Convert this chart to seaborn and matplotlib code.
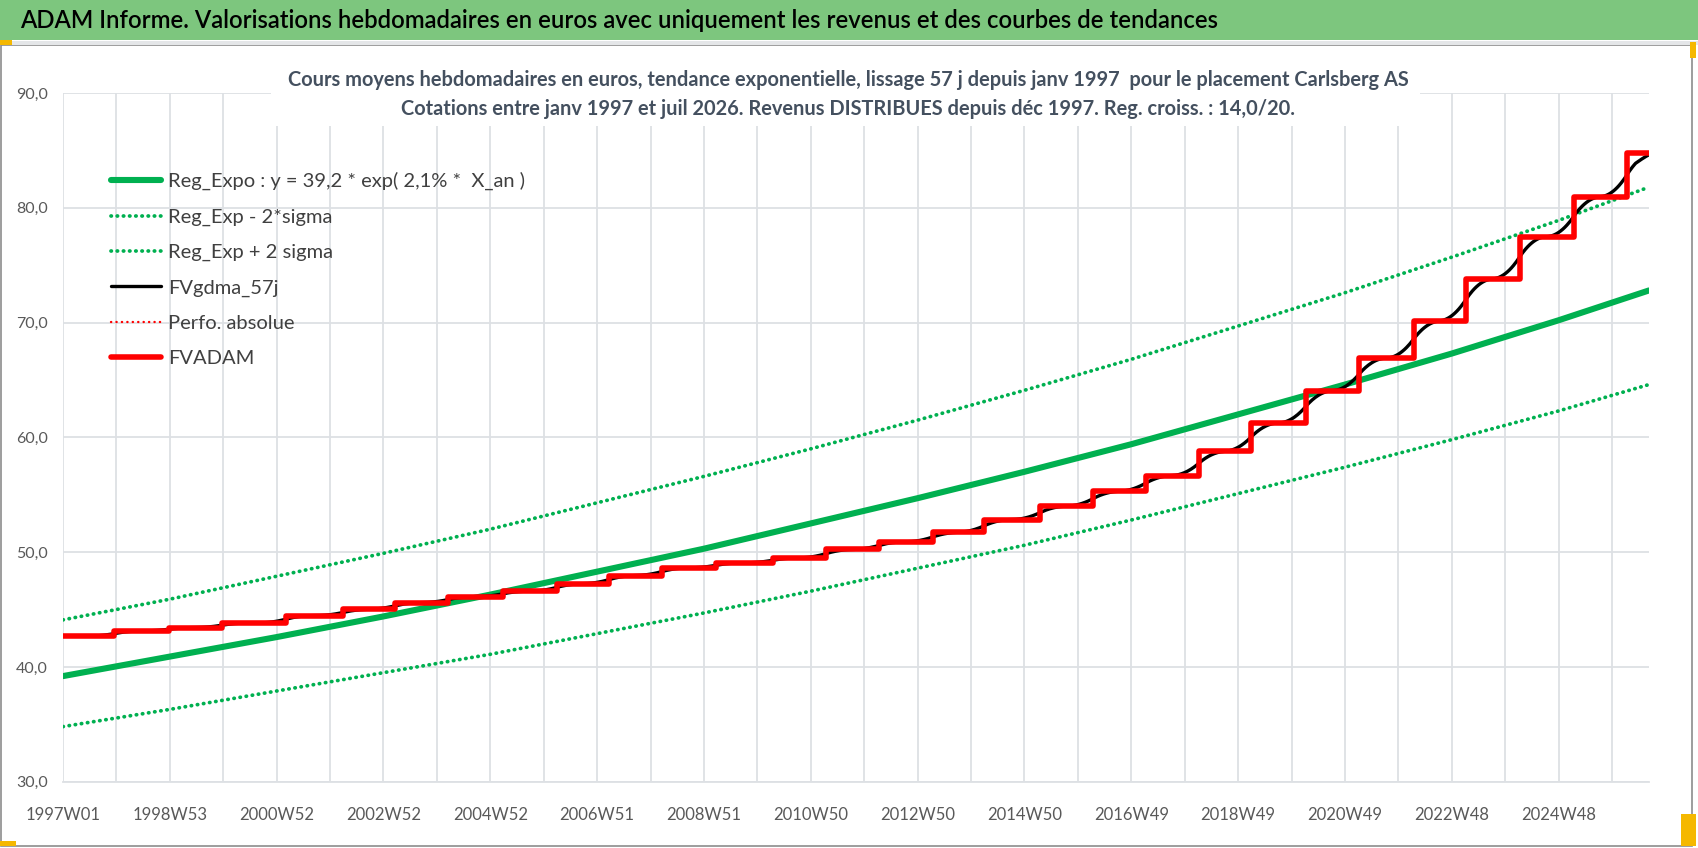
import numpy as np
import pandas as pd
import seaborn as sns
import matplotlib.pyplot as plt
from matplotlib.patches import Rectangle
from matplotlib.lines import Line2D
from matplotlib.ticker import FuncFormatter

# --- data (x = week index since 1997W01) ---
trend_weeks = [0, 104, 208, 312, 416, 520, 624, 728, 832, 936, 1040, 1144, 1248, 1352, 1456, 1544]
reg_expo = [39.2, 40.9, 42.6, 44.4, 46.3, 48.3, 50.3, 52.5, 54.7, 57.0, 59.4, 62.0, 64.6, 67.3, 70.2, 72.8]
reg_low = [34.8, 36.3, 37.9, 39.5, 41.1, 42.9, 44.7, 46.6, 48.6, 50.6, 52.8, 55.1, 57.4, 59.8, 62.3, 64.6]
reg_high = [44.1, 45.9, 47.9, 49.9, 52.0, 54.3, 56.6, 59.0, 61.5, 64.1, 66.8, 69.7, 72.6, 75.7, 78.9, 81.8]

step_weeks = [0, 50, 103, 155, 217, 273, 323, 375, 428, 481, 532, 583, 636, 691, 743,
              794, 847, 897, 951, 1003, 1054, 1106, 1157, 1210, 1262, 1315, 1366, 1418, 1471, 1523]
fvadam_levels = [42.67, 43.13, 43.43, 43.83, 44.47, 45.02, 45.6, 46.12, 46.6, 47.25, 47.96, 48.63,
                 49.07, 49.5, 50.23, 50.9, 51.73, 52.84, 54.0, 55.3, 56.67, 58.78, 61.25, 64.06,
                 66.9, 70.14, 73.8, 77.48, 80.96, 84.78]
last_week = 1544

tick_labels = ['1997W01', '1998W53', '2000W52', '2002W52', '2004W52', '2006W51', '2008W51',
               '2010W50', '2012W50', '2014W50', '2016W49', '2018W49', '2020W49', '2022W48', '2024W48']

GREEN = '#00B050'
RED = '#FF0000'
GRID = '#DDE0E4'
LABEL = '#595959'

sns.set_theme(style="whitegrid")
plt.rcParams['font.family'] = ['Lato', 'DejaVu Sans']

W, H = 1698, 848
fig = plt.figure(figsize=(W / 100, H / 100), dpi=100)
fig.patch.set_facecolor('white')

def px_rect(x0, y0, x1, y1, **kw):
    # rectangle in reference pixel coords (origin top-left)
    fig.add_artist(Rectangle((x0 / W, 1 - y1 / H), (x1 - x0) / W, (y1 - y0) / H,
                             transform=fig.transFigure, **kw))

# frame of the chart area and green banner
px_rect(1, 45, 1692, 846, facecolor='white', edgecolor='#8C8C8C', linewidth=1.2, zorder=-5)
px_rect(0, 0, W, 40, facecolor='#7DC67E', edgecolor='none', zorder=-4)
px_rect(0, 41, W, 45, facecolor='#E4E6E8', edgecolor='none', zorder=-4)
px_rect(0, 40, 12, 45, facecolor='#F5B800', edgecolor='none', zorder=5)
px_rect(1690, 42, 1696, 58, facecolor='#F5B800', edgecolor='none', zorder=5)
px_rect(1681, 814, 1696, 846, facecolor='#F5B800', edgecolor='none', zorder=5)
px_rect(0, 841, 16, 846, facecolor='#F5B800', edgecolor='none', zorder=5)
fig.text(20 / W, 1 - 21 / H,
         "ADAM Informe. Valorisations hebdomadaires en euros avec uniquement les revenus et des courbes de tendances",
         fontsize=17.2, fontweight='semibold', color='black', ha='left', va='center')

ax = fig.add_axes([63 / W, 1 - 781.7 / H, (1649 - 63) / W, (781.7 - 93) / H])
ax.set_facecolor('white')

trend_df = pd.DataFrame({'week': trend_weeks, 'expo': reg_expo, 'low': reg_low, 'high': reg_high})

# weekly FVADAM and its smoothed version
weeks = np.arange(0, last_week + 1)
idx = np.searchsorted(step_weeks, weeks, side='right') - 1
weekly = pd.DataFrame({'week': weeks, 'fvadam': np.array(fvadam_levels)[idx]})
smooth = weekly['fvadam'].rolling(27, center=True, min_periods=1).mean()
weekly['gdma'] = smooth.rolling(27, center=True, min_periods=1).mean()

step_df = pd.DataFrame({'week': step_weeks + [last_week], 'fvadam': fvadam_levels + [fvadam_levels[-1]]})

dot = (0, (0.1, 1.55))
sns.lineplot(data=trend_df, x='week', y='expo', color=GREEN, linewidth=4.4, ax=ax,
             label='Reg_Expo : y = 39,2 * exp( 2,1% *  X_an )')
sns.lineplot(data=trend_df, x='week', y='low', color=GREEN, linewidth=2.7, linestyle=dot,
             dash_capstyle='round', ax=ax, label='Reg_Exp - 2*sigma')
sns.lineplot(data=trend_df, x='week', y='high', color=GREEN, linewidth=2.7, linestyle=dot,
             dash_capstyle='round', ax=ax, label='Reg_Exp + 2 sigma')
sns.lineplot(data=weekly, x='week', y='gdma', color='black', linewidth=2.4, ax=ax, label='FVgdma_57j')
sns.lineplot(data=step_df, x='week', y='fvadam', color=RED, linewidth=4.0, drawstyle='steps-post',
             estimator=None, ax=ax, label='FVADAM')

ax.set_xlim(0, last_week)
ax.set_ylim(30, 90)
ax.set_xlabel('')
ax.set_ylabel('')

grid_ticks = list(range(0, last_week + 1, 52))
ax.set_xticks(grid_ticks)
ax.set_xticklabels([tick_labels[i // 2] if i % 2 == 0 else '' for i in range(len(grid_ticks))])
ax.set_yticks(range(30, 91, 10))
ax.yaxis.set_major_formatter(FuncFormatter(lambda v, p: f"{v:.1f}".replace('.', ',')))

ax.grid(True, color=GRID, linewidth=1.3)
ax.tick_params(axis='x', length=7, width=1.3, color=GRID, labelsize=12, labelcolor=LABEL, pad=11)
ax.tick_params(axis='y', length=0, labelsize=11.5, labelcolor=LABEL, pad=11)
for side in ['top', 'right', 'left']:
    ax.spines[side].set_visible(False)
ax.spines['bottom'].set_color(GRID)
ax.spines['bottom'].set_linewidth(1.3)

# legend in Excel order
handles, labels = ax.get_legend_handles_labels()
perfo = Line2D([], [], color=RED, linewidth=1.7, linestyle=(0, (0.1, 2.2)), dash_capstyle='round')
handles.insert(4, perfo)
labels.insert(4, 'Perfo. absolue')
ax.legend(handles, labels, loc='upper left', bbox_to_anchor=(111 / W, 1 - 172 / H),
          bbox_transform=fig.transFigure, frameon=False, fontsize=14.5, labelcolor='#404040',
          handlelength=2.5, handletextpad=0.35, labelspacing=0.9, borderpad=0, borderaxespad=0)

# chart subtitle box over the grid
px_rect(271, 88, 1420, 126, facecolor='white', edgecolor='none', zorder=2)
sub_color = '#44505F'
fig.text(848 / W, 1 - 80 / H,
         "Cours moyens hebdomadaires en euros, tendance exponentielle, lissage 57 j depuis janv 1997  pour le placement Carlsberg AS",
         fontsize=14.4, fontweight='bold', color=sub_color, ha='center', va='center', zorder=3)
fig.text(848 / W, 1 - 109 / H,
         "Cotations entre janv 1997 et juil 2026. Revenus DISTRIBUES depuis déc 1997. Reg. croiss. : 14,0/20.",
         fontsize=14.4, fontweight='bold', color=sub_color, ha='center', va='center', zorder=3)

fig.savefig('out.png', dpi=100)
